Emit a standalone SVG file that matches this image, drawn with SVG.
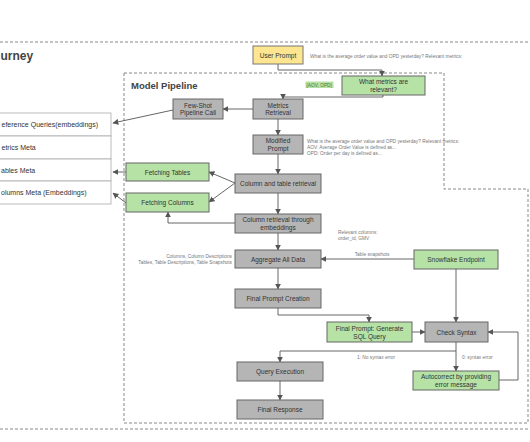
<svg xmlns="http://www.w3.org/2000/svg" width="530" height="442" viewBox="0 0 530 442">
<defs>
<marker id="ah" viewBox="0 0 10 10" refX="9" refY="5" markerWidth="6" markerHeight="6" orient="auto" markerUnits="userSpaceOnUse">
<path d="M0,0 L10,5 L0,10 z" fill="#555"/>
</marker>
<style>
.dash{fill:none;stroke:#888;stroke-width:1;stroke-dasharray:3,2}
.g{fill:#b5b5b5;stroke:#666;stroke-width:1}
.gr{fill:#b6e2a6;stroke:#666;stroke-width:1}
.y{fill:#fde68f;stroke:#777;stroke-width:1}
.row{fill:#fff;stroke:#aaa;stroke-width:0.8}
.t{font-family:"Liberation Sans",Arial,sans-serif;font-size:6.5px;fill:#333;text-anchor:middle}
.rt{font-family:"Liberation Sans",Arial,sans-serif;font-size:7px;fill:#333}
.n{font-family:"Liberation Sans",Arial,sans-serif;font-size:4.8px;fill:#777}
.c{fill:none;stroke:#666;stroke-width:1}
.h{font-family:"Liberation Sans",Arial,sans-serif;font-weight:bold;fill:#444}
</style>
</defs>
<rect width="530" height="442" fill="#fff"/>
<!-- frames -->
<line class="dash" x1="0" y1="42" x2="530" y2="42"/>
<line class="dash" x1="0" y1="429" x2="530" y2="429"/>
<path class="dash" d="M124,73 H444 V189 H528 V423 H124 Z"/>
<text class="h" x="0.5" y="60" font-size="12">urney</text>
<text class="h" x="131" y="89" font-size="9.5">Model Pipeline</text>

<!-- table -->
<g id="table">
<rect class="row" x="-2" y="113" width="113" height="23"/>
<rect class="row" x="-2" y="136" width="113" height="23"/>
<rect class="row" x="-2" y="159" width="113" height="22"/>
<rect class="row" x="-2" y="181" width="113" height="23"/>
<text class="rt" x="1.5" y="127">eference Queries(embeddings)</text>
<text class="rt" x="1.5" y="150">etrics Meta</text>
<text class="rt" x="1" y="172.5">ables Meta</text>
<text class="rt" x="1" y="195">olumns Meta (Embeddings)</text>
</g>

<!-- connectors -->
<g id="connectors">
<path class="c" d="M278,64 V70 H382 V76" marker-end="url(#ah)"/>
<path class="c" d="M383,95 V97 H283 V99" marker-end="url(#ah)"/>
<path class="c" d="M253,109 H223" marker-end="url(#ah)"/>
<path class="c" d="M173,110 L113,123" marker-end="url(#ah)"/>
<path class="c" d="M278,119 V135" marker-end="url(#ah)"/>
<path class="c" d="M278,154 V174" marker-end="url(#ah)"/>
<path class="c" d="M235,183 L209,172" marker-end="url(#ah)"/>
<path class="c" d="M235,183 L209,202" marker-end="url(#ah)"/>
<path class="c" d="M126,172 H113" marker-end="url(#ah)"/>
<path class="c" d="M126,203 L113,193" marker-end="url(#ah)"/>
<path class="c" d="M278,193 V214" marker-end="url(#ah)"/>
<path class="c" d="M235,223 H168 V212" marker-end="url(#ah)"/>
<path class="c" d="M278,233 V250" marker-end="url(#ah)"/>
<path class="c" d="M414,259 H321" marker-end="url(#ah)"/>
<path class="c" d="M278,268 V289" marker-end="url(#ah)"/>
<path class="c" d="M278,308 V315 H369 V322" marker-end="url(#ah)"/>
<path class="c" d="M412,332 H425" marker-end="url(#ah)"/>
<path class="c" d="M456,269 V322" marker-end="url(#ah)"/>
<path class="c" d="M456,342 V351 H280 V362" marker-end="url(#ah)"/>
<path class="c" d="M456,351 V371" marker-end="url(#ah)"/>
<path class="c" d="M499,380 H518 V332 H488" marker-end="url(#ah)"/>
<path class="c" d="M280,381 V400" marker-end="url(#ah)"/>
</g>

<!-- notes -->
<text class="n" x="310" y="58">What is the average order value and OPD yesterday? Relevant metrics:</text>
<rect x="305.5" y="81.5" width="28" height="6.5" fill="#b6e2a6"/>
<text class="n" x="306.5" y="86.5" style="fill:#4a7a3a">[AOV, OPD]</text>
<text class="n" x="307" y="143">What is the average order value and OPD yesterday? Relevant metrics:</text>
<text class="n" x="307" y="149">AOV: Average Order Value is defined as...</text>
<text class="n" x="307" y="155">OPD: Order per day is defined as...</text>
<text class="n" x="338" y="234">Relevant columns:</text>
<text class="n" x="338" y="240">order_id, GMV</text>
<text class="n" x="372" y="255.5" text-anchor="middle">Table snapshots</text>
<text class="n" x="232" y="258" text-anchor="end">Columns, Column Descriptions</text>
<text class="n" x="232" y="264" text-anchor="end">Tables, Table Descriptions, Table Snapshots</text>
<text class="n" x="376" y="358.5" text-anchor="middle">1: No syntax error</text>
<text class="n" x="462" y="358.5">0: syntax error</text>

<!-- nodes -->
<g id="user-prompt"><rect class="y" x="253" y="46" width="50" height="18"/><text class="t" x="278" y="57.5">User Prompt</text></g>
<g id="what-metrics"><rect class="gr" x="342" y="76" width="83" height="19"/><text class="t" x="383.5" y="84" font-size="7">What metrics are</text><text class="t" x="383.5" y="92" font-size="7">relevant?</text></g>
<g id="metrics-retrieval"><rect class="g" x="253" y="99" width="50" height="20"/><text class="t" x="278" y="107.5">Metrics</text><text class="t" x="278" y="115">Retrieval</text></g>
<g id="few-shot"><rect class="g" x="173" y="99" width="50" height="20"/><text class="t" x="198" y="107.5">Few-Shot</text><text class="t" x="198" y="115">Pipeline Call</text></g>
<g id="modified-prompt"><rect class="g" x="253" y="135" width="50" height="19"/><text class="t" x="278" y="143">Modified</text><text class="t" x="278" y="150.5">Prompt</text></g>
<g id="col-table-retrieval"><rect class="g" x="235" y="174" width="86" height="19"/><text class="t" x="278" y="186">Column and table retrieval</text></g>
<g id="fetching-tables"><rect class="gr" x="126" y="163" width="83" height="18"/><text class="t" x="167.5" y="174.5">Fetching Tables</text></g>
<g id="fetching-columns"><rect class="gr" x="126" y="193" width="83" height="19"/><text class="t" x="167.5" y="205">Fetching Columns</text></g>
<g id="col-embeddings"><rect class="g" x="235" y="214" width="86" height="19"/><text class="t" x="278" y="222">Column retrieval through</text><text class="t" x="278" y="230">embeddings</text></g>
<g id="aggregate"><rect class="g" x="235" y="250" width="86" height="18"/><text class="t" x="278" y="261.5">Aggregate All Data</text></g>
<g id="snowflake"><rect class="gr" x="414" y="250" width="84" height="19"/><text class="t" x="456" y="262">Snowflake Endpoint</text></g>
<g id="final-prompt-creation"><rect class="g" x="235" y="289" width="86" height="19"/><text class="t" x="278" y="301">Final Prompt Creation</text></g>
<g id="final-prompt-sql"><rect class="gr" x="327" y="322" width="85" height="20"/><text class="t" x="369.5" y="330.5">Final Prompt: Generate</text><text class="t" x="369.5" y="338.5">SQL Query</text></g>
<g id="check-syntax"><rect class="g" x="425" y="322" width="63" height="20"/><text class="t" x="456.5" y="334.5">Check Syntax</text></g>
<g id="autocorrect"><rect class="gr" x="413" y="371" width="86" height="19"/><text class="t" x="456" y="379">Autocorrect by providing</text><text class="t" x="456" y="387">error message</text></g>
<g id="query-execution"><rect class="g" x="237" y="362" width="86" height="19"/><text class="t" x="280" y="374">Query Execution</text></g>
<g id="final-response"><rect class="g" x="237" y="400" width="86" height="19"/><text class="t" x="280" y="412">Final Response</text></g>
</svg>
